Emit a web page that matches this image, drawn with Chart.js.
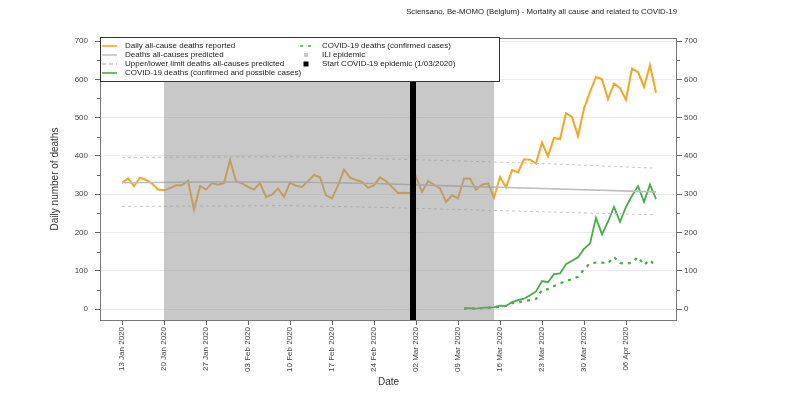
<!DOCTYPE html>
<html>
<head>
<meta charset="utf-8">
<script src="https://cdn.jsdelivr.net/npm/chart.js@4.4.1/dist/chart.umd.min.js"></script>
<style>
  html, body { margin: 0; padding: 0; background: #fff; }
</style>
</head>
<body>
<canvas id="momo" width="800" height="393"></canvas>
<script>
// x values are days since 13 Jan 2020
const tickDays = [0, 7, 14, 21, 28, 35, 42, 49, 56, 63, 70, 77, 84];
const tickLabels = ['13 Jan 2020', '20 Jan 2020', '27 Jan 2020', '03 Feb 2020', '10 Feb 2020', '17 Feb 2020',
  '24 Feb 2020', '02 Mar 2020', '09 Mar 2020', '16 Mar 2020', '23 Mar 2020', '30 Mar 2020', '06 Apr 2020'];

// daily all-cause deaths, 13 Jan -> 11 Apr
const allCause = [
  330, 341, 321, 343, 337, 328, 312, 310, 316, 323,
  323, 335, 260, 321, 312, 329, 325, 329, 389, 334,
  328, 319, 312, 329, 293, 299, 315, 293, 330, 322,
  319, 334, 350, 344, 297, 289, 323, 364, 343, 337,
  332, 317, 323, 344, 334, 319, 303, 304, 303, 345,
  306, 334, 325, 315, 280, 297, 289, 341, 341, 312,
  325, 328, 291, 345, 318, 363, 357, 391, 390, 380,
  435, 399, 447, 444, 511, 502, 452, 524, 567, 606,
  600, 548, 589, 577, 547, 628, 619, 580, 637, 565
];

// covid series start on 10 Mar (day 57)
const covidStart = 57;
const covidPossible = [
  2, 2, 1, 3, 4, 5, 9, 8, 18, 23, 27, 36, 46, 73, 70, 91, 93,
  117, 126, 135, 157, 171, 238, 195, 228, 267, 228, 267, 296, 321, 280, 325, 287
];
const covidConfirmed = [
  1, 1, 1, 2, 3, 4, 6, 8, 15, 17, 21, 23, 26, 50, 52, 60, 67,
  73, 78, 84, 104, 119, 121, 121, 119, 136, 120, 118, 121, 136, 115, 128, 110
];

// model baseline and limits
const predictedDays = [0, 14, 28, 42, 56, 70, 89];
const predicted = [330, 332, 332, 328, 321, 315, 306];
const upperLimit = [396, 397, 398, 393, 387, 380, 368];
const lowerLimit = [268, 269, 270, 266, 260, 254, 246];

const iliPeriod = [7, 62];      // 20 Jan -> 15 Mar
const epidemicStart = [48, 49]; // 1 Mar

const ORANGE = '#f5a623';
const GREEN = '#45ad45';
const FONT = '"Liberation Sans", Arial, sans-serif';

const toPoints = (arr, start = 0) => arr.map((v, i) => ({ x: start + i, y: v }));
const onDays = (arr) => arr.map((v, i) => ({ x: predictedDays[i], y: v }));

const legendLeft = [
  { label: 'Daily all-cause deaths reported', color: ORANGE, dash: [] },
  { label: 'Deaths all-causes predicted', color: '#c4c4c4', dash: [] },
  { label: 'Upper/lower limit deaths all-causes predicted', color: '#c4c4c4', dash: [4, 3] },
  { label: 'COVID-19 deaths (confirmed and possible cases)', color: GREEN, dash: [] },
];
const legendRight = [
  { label: 'COVID-19 deaths (confirmed cases)', color: GREEN, dash: [3, 5] },
  { label: 'ILI epidemic', square: '#c8c8c8', size: 4 },
  { label: 'Start COVID-19 epidemic (1/03/2020)', square: '#000', size: 5 },
];

const momoPlugin = {
  id: 'momo',
  afterDatasetsDraw(chart) {
    const { ctx, chartArea: a, scales: { x } } = chart;
    ctx.save();
    // ILI period shading drawn over the lines
    const b0 = x.getPixelForValue(iliPeriod[0]);
    const b1 = x.getPixelForValue(iliPeriod[1]);
    ctx.fillStyle = 'rgba(150,150,150,0.52)';
    ctx.fillRect(b0, a.top, b1 - b0, a.bottom - a.top);
    const s0 = x.getPixelForValue(epidemicStart[0]);
    const s1 = x.getPixelForValue(epidemicStart[1]);
    ctx.fillStyle = '#000';
    ctx.fillRect(s0, a.top, s1 - s0, a.bottom - a.top);
    ctx.restore();
  },
  afterDraw(chart) {
    const { ctx, chartArea: a, scales: { y } } = chart;
    ctx.save();
    // box
    ctx.strokeStyle = '#777';
    ctx.lineWidth = 1;
    ctx.strokeRect(a.left + 0.5, a.top + 0.5, a.right - a.left - 1, a.bottom - a.top);
    // minor ticks every 50
    ctx.strokeStyle = '#666';
    for (let v = 50; v < 700; v += 100) {
      const py = Math.round(y.getPixelForValue(v)) + 0.5;
      ctx.beginPath();
      ctx.moveTo(a.left - 3, py); ctx.lineTo(a.left, py);
      ctx.moveTo(a.right, py); ctx.lineTo(a.right + 3, py);
      ctx.stroke();
    }
    // title
    ctx.fillStyle = '#222';
    ctx.font = '7.8px ' + FONT;
    ctx.textAlign = 'right';
    ctx.textBaseline = 'middle';
    ctx.fillText('Sciensano, Be-MOMO (Belgium) - Mortality all cause and related to COVID-19', a.right, 12);
    // legend
    const lx = a.left, ly = a.top - 1, lw = 399, lh = 44;
    ctx.fillStyle = '#fff';
    ctx.fillRect(lx, ly, lw, lh);
    ctx.strokeStyle = '#333';
    ctx.strokeRect(lx + 0.5, ly + 0.5, lw, lh);
    ctx.font = '8px ' + FONT;
    ctx.textAlign = 'left';
    const rows = [46, 55, 64, 73];
    const drawItem = (item, sx, tx, ry) => {
      if (item.square) {
        ctx.fillStyle = item.square;
        ctx.fillRect(sx + 6 - item.size / 2, ry - item.size / 2, item.size, item.size);
      } else {
        ctx.strokeStyle = item.color;
        ctx.lineWidth = 1.6;
        ctx.setLineDash(item.dash);
        ctx.beginPath();
        ctx.moveTo(sx, ry); ctx.lineTo(sx + 15, ry);
        ctx.stroke();
        ctx.setLineDash([]);
      }
      ctx.fillStyle = '#222';
      ctx.fillText(item.label, tx, ry);
    };
    legendLeft.forEach((it, i) => drawItem(it, lx + 2, lx + 25, rows[i]));
    legendRight.forEach((it, i) => drawItem(it, lx + 200, lx + 222, rows[i]));
    ctx.restore();
  }
};

const tickFont = { family: FONT, size: 8 };

new Chart(document.getElementById('momo'), {
  type: 'line',
  data: {
    datasets: [
      { data: onDays(upperLimit), borderColor: '#c8c8c8', borderWidth: 1, borderDash: [3, 3] },
      { data: onDays(lowerLimit), borderColor: '#c8c8c8', borderWidth: 1, borderDash: [3, 3] },
      { data: onDays(predicted), borderColor: '#bdbdbd', borderWidth: 1.6 },
      { data: toPoints(allCause), borderColor: ORANGE, borderWidth: 2 },
      { data: toPoints(covidPossible, covidStart), borderColor: GREEN, borderWidth: 1.8 },
      { data: toPoints(covidConfirmed, covidStart), borderColor: GREEN, borderWidth: 2.2, borderDash: [3, 5] },
    ]
  },
  options: {
    responsive: false,
    animation: false,
    devicePixelRatio: 1,
    layout: { padding: { top: 38, left: 0, right: 0, bottom: 0 } },
    elements: { point: { radius: 0 }, line: { tension: 0, fill: false } },
    plugins: { legend: { display: false }, tooltip: { enabled: false } },
    scales: {
      x: {
        type: 'linear',
        min: -3.67,
        max: 92.5,
        afterBuildTicks: (s) => { s.ticks = tickDays.map((v) => ({ value: v })); },
        afterFit: (s) => { s.height = 73; },
        ticks: {
          autoSkip: false, minRotation: 90, maxRotation: 90, padding: 2,
          font: tickFont, color: '#444',
          callback: (v, i) => tickLabels[i]
        },
        grid: { drawOnChartArea: false, tickLength: 5, tickColor: '#666' },
        border: { display: false },
        title: { display: true, text: 'Date', font: { family: FONT, size: 10 }, color: '#333', padding: { bottom: 5 } }
      },
      y: {
        position: 'left',
        min: -28.7,
        max: 708,
        afterFit: (s) => { s.width = 100; },
        ticks: { stepSize: 100, includeBounds: false, padding: 7, font: tickFont, color: '#444' },
        grid: { color: '#ebebeb', tickLength: 5, tickColor: '#666' },
        border: { display: false },
        title: { display: true, text: 'Daily number of deaths', font: { family: FONT, size: 10 }, color: '#333', padding: { top: 49 } }
      },
      y2: {
        position: 'right',
        min: -28.7,
        max: 708,
        afterFit: (s) => { s.width = 123; },
        ticks: { stepSize: 100, includeBounds: false, padding: 2, font: tickFont, color: '#444' },
        grid: { drawOnChartArea: false, tickLength: 5, tickColor: '#666' },
        border: { display: false }
      }
    }
  },
  plugins: [momoPlugin]
});
</script>
</body>
</html>
